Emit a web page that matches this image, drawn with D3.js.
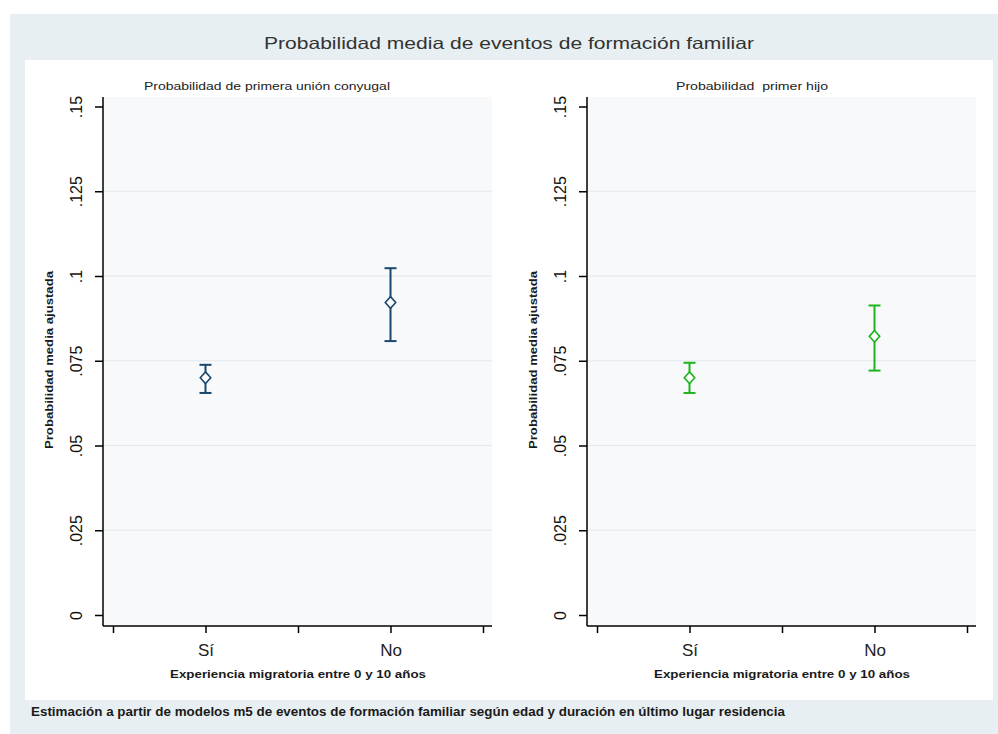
<!DOCTYPE html>
<html>
<head>
<meta charset="utf-8">
<script src="https://cdn.jsdelivr.net/npm/d3@7"></script>
<style>
  html, body { margin: 0; padding: 0; background: #ffffff; }
  svg { display: block; font-family: "Liberation Sans", Arial, sans-serif; }
  text { white-space: pre; }
</style>
</head>
<body>
<svg id="chart" width="998" height="734"></svg>
<script>
// Categories and estimates (mean, lower CI, upper CI)
const categories = ["Sí", "No"];
const unionMean  = [0.0700, 0.0922];
const unionLow   = [0.0655, 0.0808];
const unionHigh  = [0.0738, 0.1023];
const childMean  = [0.0700, 0.0822];
const childLow   = [0.0655, 0.0721];
const childHigh  = [0.0744, 0.0913];
const yTicks = [0, 0.025, 0.05, 0.075, 0.1, 0.125, 0.15];
const yTickLabels = ["0", ".025", ".05", ".075", ".1", ".125", ".15"];

const mainTitle = "Probabilidad media de eventos de formación familiar";
const panelTitles = ["Probabilidad de primera unión conyugal", "Probabilidad  primer hijo"];
const yTitle = "Probabilidad media ajustada";
const xTitle = "Experiencia migratoria entre 0 y 10 años";
const note = "Estimación a partir de modelos m5 de eventos de formación familiar según edad y duración en último lugar residencia";

const svg = d3.select("#chart");

// Outer graph region and inner white plot area
svg.append("rect").attr("x", 10).attr("y", 14).attr("width", 988).attr("height", 720).attr("fill", "#e8eff2");
svg.append("rect").attr("x", 25).attr("y", 60).attr("width", 968).attr("height", 640).attr("fill", "#ffffff");

svg.append("text")
  .attr("x", 509).attr("y", 49)
  .attr("text-anchor", "middle")
  .attr("font-size", 16.5)
  .attr("fill", "#333333")
  .attr("textLength", 490).attr("lengthAdjust", "spacingAndGlyphs")
  .text(mainTitle);

svg.append("text")
  .attr("x", 31).attr("y", 716)
  .attr("font-size", 12.5)
  .attr("font-weight", "bold")
  .attr("fill", "#1a1a1a")
  .attr("textLength", 754).attr("lengthAdjust", "spacingAndGlyphs")
  .text(note);

const panels = [
  { left: 103, title: panelTitles[0], titleX: 267, titleW: 246, mean: unionMean, low: unionLow, high: unionHigh, color: "#1a476f" },
  { left: 587, title: panelTitles[1], titleX: 752, titleW: 152, mean: childMean, low: childLow, high: childHigh, color: "#1fb41f" }
];

const plotTop = 97, plotBottom = 626, plotW = 389;

panels.forEach(p => {
  const g = svg.append("g");
  const x = d3.scaleLinear().domain([0, 4]).range([p.left + 10, p.left + 380]);
  const y = d3.scaleLinear().domain([0, 0.15]).range([615, 106.5]);

  // plot region background
  g.append("rect")
    .attr("x", p.left).attr("y", plotTop)
    .attr("width", plotW).attr("height", plotBottom - plotTop)
    .attr("fill", "#f7f9fa");

  // horizontal grid lines
  g.selectAll("line.grid")
    .data(yTicks.filter(t => t > 0 && t < 0.15))
    .enter().append("line")
    .attr("class", "grid")
    .attr("x1", p.left).attr("x2", p.left + plotW)
    .attr("y1", d => y(d)).attr("y2", d => y(d))
    .attr("stroke", "#e3eaed").attr("stroke-width", 1.2);

  // y axis
  const yAxis = d3.axisLeft(y)
    .tickValues(yTicks)
    .tickFormat((d, i) => yTickLabels[i])
    .tickSize(8).tickPadding(4);
  const ya = g.append("g")
    .attr("transform", `translate(${p.left},0)`)
    .call(yAxis);
  ya.select(".domain").attr("d", `M0,${plotTop}V${plotBottom}`).attr("stroke", "#000").attr("stroke-width", 1.5);
  ya.selectAll(".tick line").attr("stroke", "#000").attr("stroke-width", 1.5);
  ya.selectAll(".tick text")
    .attr("font-size", 16)
    .attr("font-family", "Liberation Sans, Arial, sans-serif")
    .attr("fill", "#111")
    .attr("text-anchor", "middle")
    .attr("dy", "0")
    .attr("x", 0)
    .attr("transform", "translate(-27,0) rotate(-90)")
    .attr("y", 6);

  // x axis
  const xAxis = d3.axisBottom(x)
    .tickValues([0, 1, 2, 3, 4])
    .tickFormat(d => (d === 1 ? categories[0] : d === 3 ? categories[1] : ""))
    .tickSize(7).tickPadding(11);
  const xa = g.append("g")
    .attr("transform", `translate(0,${plotBottom})`)
    .call(xAxis);
  xa.select(".domain").attr("d", `M${p.left},0H${p.left + plotW}`).attr("stroke", "#000").attr("stroke-width", 1.5);
  xa.selectAll(".tick line").attr("stroke", "#000").attr("stroke-width", 1.5);
  xa.selectAll(".tick text")
    .attr("font-size", 17)
    .attr("font-family", "Liberation Sans, Arial, sans-serif")
    .attr("fill", "#222");

  // titles
  g.append("text")
    .attr("x", p.titleX).attr("y", 90)
    .attr("text-anchor", "middle")
    .attr("font-size", 10.5)
    .attr("fill", "#222")
    .attr("textLength", p.titleW).attr("lengthAdjust", "spacingAndGlyphs")
    .text(p.title);

  g.append("text")
    .attr("x", x(2)).attr("y", 678)
    .attr("text-anchor", "middle")
    .attr("font-size", 11)
    .attr("font-weight", "bold")
    .attr("fill", "#1a1a1a")
    .attr("textLength", 256).attr("lengthAdjust", "spacingAndGlyphs")
    .text(xTitle);

  g.append("text")
    .attr("transform", `translate(${p.left - 50},360) rotate(-90)`)
    .attr("text-anchor", "middle")
    .attr("font-size", 10.5)
    .attr("font-weight", "bold")
    .attr("fill", "#1a1a1a")
    .attr("textLength", 178).attr("lengthAdjust", "spacingAndGlyphs")
    .text(yTitle);

  // error bars and markers
  const xPos = i => x(i === 0 ? 1 : 3);
  const cap = 6;
  [0, 1].forEach(i => {
    const cx = xPos(i);
    g.append("line")
      .attr("x1", cx).attr("x2", cx)
      .attr("y1", y(p.low[i])).attr("y2", y(p.high[i]))
      .attr("stroke", p.color).attr("stroke-width", 2);
    [p.low[i], p.high[i]].forEach(v => {
      g.append("line")
        .attr("x1", cx - cap).attr("x2", cx + cap)
        .attr("y1", y(v)).attr("y2", y(v))
        .attr("stroke", p.color).attr("stroke-width", 2);
    });
    const cy = y(p.mean[i]);
    const r = 5.8;
    g.append("path")
      .attr("d", `M${cx},${cy - r}L${cx + r * 0.9},${cy}L${cx},${cy + r}L${cx - r * 0.9},${cy}Z`)
      .attr("fill", "#ffffff")
      .attr("stroke", p.color).attr("stroke-width", 1.6);
  });
});
</script>
</body>
</html>
